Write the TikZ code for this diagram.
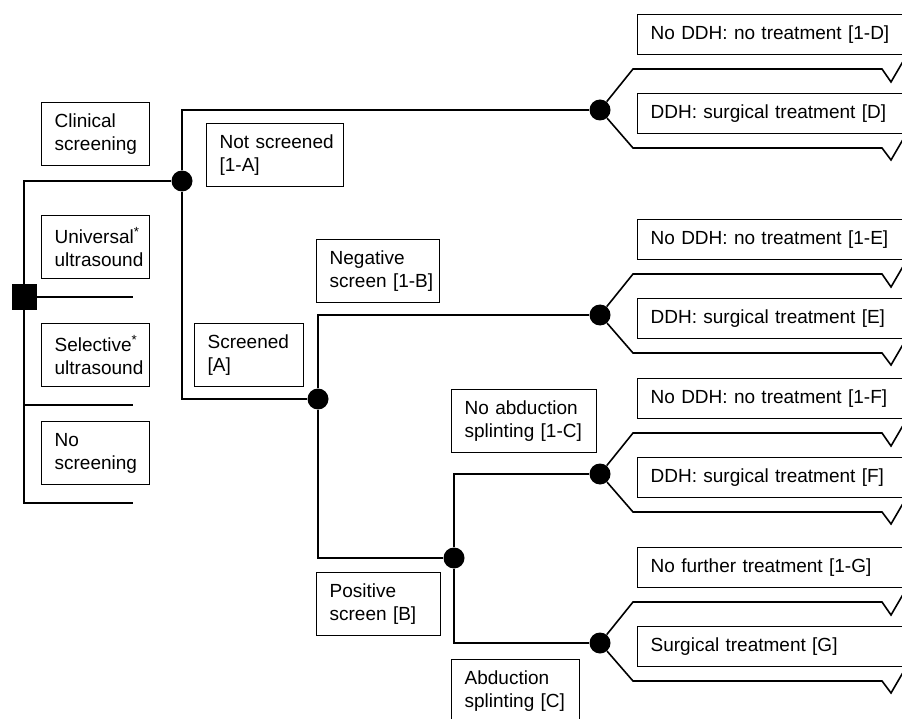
\documentclass[tikz,border=0pt]{standalone}
\usepackage{fontspec}
\setmainfont{Liberation Sans}
\tikzset{
    % Tree lines
    branch/.style={line width=1.6, line join=miter},
    % Label boxes
    box/.style={draw, line width=1.3, anchor=north west, align=left,
        inner xsep=13, inner ysep=0, font=\fontsize{19}{23}\selectfont},
    twoline/.style={box, minimum height=63},
    outcome/.style={box, minimum height=40, text width=300},
    % Tree nodes
    chance/.style={circle, fill=black, inner sep=0, minimum size=21},
    decision/.style={rectangle, fill=black, inner sep=0, minimum size=25},
}

\begin{document}
\begin{tikzpicture}[x=1pt, y=-1pt]
    \useasboundingbox (0,0) rectangle (902,719);
    \clip (0,0) rectangle (902,719);

    % Decision and chance nodes
    \node[decision] (dec) at (24,297) {};
    \node[chance] (c1) at (182,181) {};
    \node[chance] (c2) at (600,110) {};
    \node[chance] (c3) at (318,399) {};
    \node[chance] (c4) at (600,315) {};
    \node[chance] (c5) at (454,558) {};
    \node[chance] (c6) at (600,474) {};
    \node[chance] (c7) at (600,643) {};

    % Open ends of the strategies
    \coordinate (e2) at (133,297);
    \coordinate (e3) at (133,405);
    \coordinate (e4) at (133,503);

    % Branches
    \draw[branch] (dec) |- (c1);
    \draw[branch] (dec) -- (e2);
    \draw[branch] (dec) |- (e3);
    \draw[branch] (dec) |- (e4);
    \draw[branch] (c1) |- (c2);
    \draw[branch] (c1) |- (c3);
    \draw[branch] (c3) |- (c4);
    \draw[branch] (c3) |- (c5);
    \draw[branch] (c5) |- (c6);
    \draw[branch] (c5) |- (c7);

    % Terminal branches
    \foreach \c in {c2,c4,c6,c7} {
        \draw[branch] (\c) -- ++(33,-41) -- ++(249,0) -- ++(9,13) -- ++(14,-24);
        \draw[branch] (\c) -- ++(33,38) -- ++(249,0) -- ++(9,12) -- ++(14,-24);
    }

    % Strategy labels
    \node[twoline, text width=82] (clin) at (41,102) {Clinical\\screening};
    \node[twoline, text width=82] (univ) at (41,215) {Universal\textsuperscript{*}\\ultrasound};
    \node[twoline, text width=82] (sel) at (41,323) {Selective\textsuperscript{*}\\ultrasound};
    \node[twoline, text width=82] (nos) at (41,421) {No\\screening};

    % Chance labels
    \node[twoline, text width=111] (notscr) at (206,123) {\mbox{Not screened}\\{[1-A]}};
    \node[twoline, text width=83] (scr) at (194,323) {Screened\\{[A]}};
    \node[twoline, text width=97] (neg) at (316,239) {Negative\\\mbox{screen [1-B]}};
    \node[twoline, text width=98] (pos) at (316,572) {Positive\\\mbox{screen [B]}};
    \node[twoline, text width=119] (noabd) at (451,389) {\mbox{No abduction}\\\mbox{splinting [1-C]}};
    \node[twoline, text width=102] (abd) at (451,659) {Abduction\\\mbox{splinting [C]}};

    % Outcome labels
    \node[outcome] (t1d) at (637,14) {No DDH: no treatment [1-D]};
    \node[outcome] (td) at (637,93) {DDH: surgical treatment [D]};
    \node[outcome] (t1e) at (637,219) {No DDH: no treatment [1-E]};
    \node[outcome] (te) at (637,298) {DDH: surgical treatment [E]};
    \node[outcome] (t1f) at (637,378) {No DDH: no treatment [1-F]};
    \node[outcome] (tf) at (637,457) {DDH: surgical treatment [F]};
    \node[outcome] (t1g) at (637,547) {No further treatment [1-G]};
    \node[outcome] (tg) at (637,626) {Surgical treatment [G]};
\end{tikzpicture}
\end{document}
